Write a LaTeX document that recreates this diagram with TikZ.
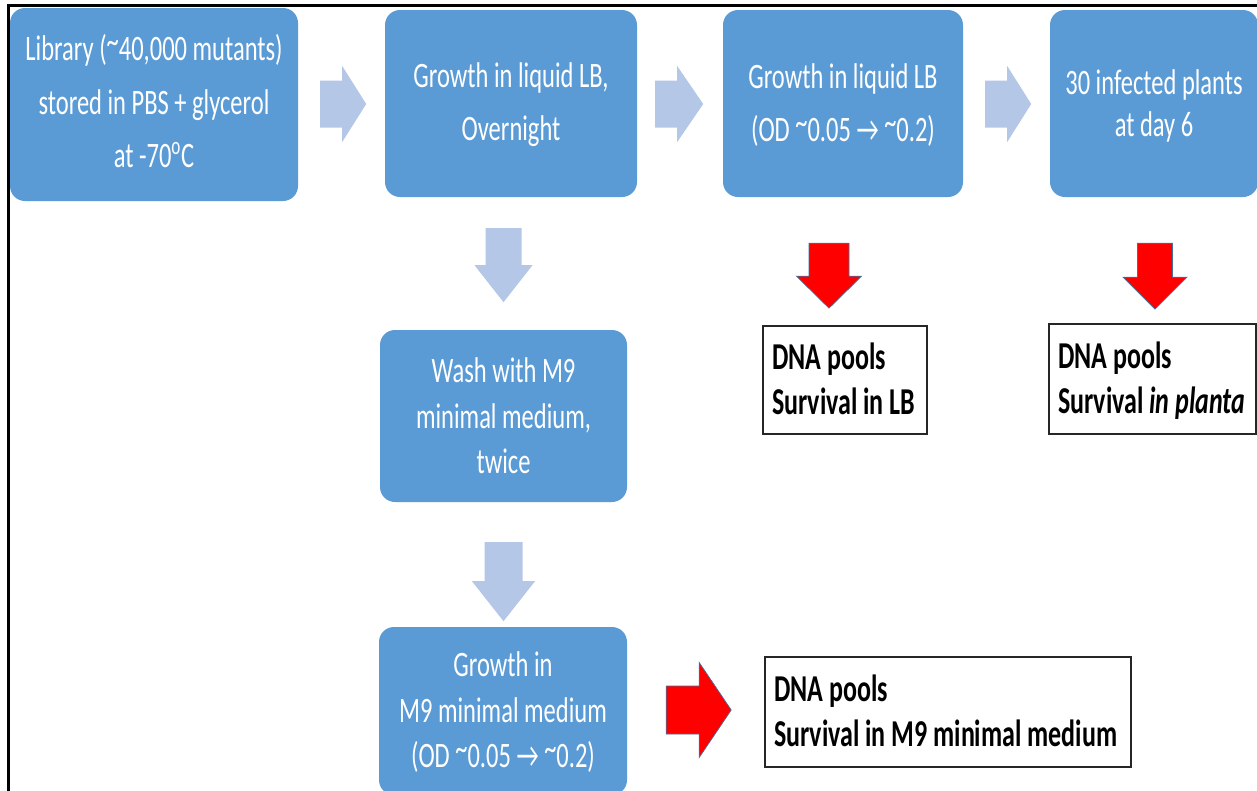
\documentclass[tikz,border=0pt]{standalone}
\usepackage{fontspec}
\setmainfont{Carlito}
\usepackage{graphicx}
\usetikzlibrary{calc}

\definecolor{boxblue}{HTML}{5B9BD5}
\definecolor{paleblue}{HTML}{B4C7E7}
\definecolor{arrowred}{HTML}{FF0000}
\definecolor{arrowedge}{HTML}{41719C}

% raised tilde, as in "~0.05"
\newcommand\tld{\raisebox{0.2em}{\textasciitilde}}
% text set tall and narrow, centred or left aligned, with an optional vertical nudge
\newcommand\tallc[2][0pt]{\raisebox{#1}[\height][\depth]{\scalebox{1}[1.46]{\begin{tabular}{@{}c@{}}#2\end{tabular}}}}
\newcommand\talll[1]{\scalebox{1}[1.46]{\begin{tabular}{@{}l@{}}#1\end{tabular}}}
\newcommand\poolt[2]{\raisebox{-3pt}[\height][\depth]{\makebox[#1][l]{\talll{#2}}}}

% block arrow: style, tail centre, direction, shaft length, head length,
% shaft half width, head half width
\newcommand\blockarrow[7]{%
  \path[#1, shift={#2}, rotate=#3]
    (0,-#6) -- (#4,-#6) -- (#4,-#7) -- ({#4+#5},0) -- (#4,#7) -- (#4,#6) -- (0,#6) -- cycle;}

\tikzset{
  stage/.style={fill=boxblue, rounded corners=15pt, text=white, inner sep=0pt,
    font=\fontsize{24.5}{36.6}\selectfont},
  pool/.style={draw=black!85, line width=1.3pt, fill=white, inner ysep=0pt, inner xsep=9pt,
    font=\fontsize{26}{30.8}\selectfont\bfseries},
  paleflow/.style={fill=paleblue},
  redflow/.style={fill=arrowred, draw=arrowedge, line width=0.7pt, line join=miter},
}

\begin{document}
\begin{tikzpicture}[x=1pt, y=-1pt]
\clip (0,0) rectangle (1257,790);
\fill[white] (0,0) rectangle (1257,790);

% outer frame (left and top edges)
\draw[line width=2.7pt, line join=miter] (8.7,795) -- (8.7,5.3) -- (1262,5.3);

% process stages
\node[stage, minimum width=288pt, minimum height=193pt] (b1) at (154,104.5)
  {\tallc[1pt]{Library (\tld40,000 mutants)\\stored in PBS + glycerol\\at -70\textsuperscript{o}C}};
\node[stage, minimum width=252pt, minimum height=187pt] (b2) at (511,103.5)
  {\tallc{Growth in liquid LB,\\Overnight}};
\node[stage, minimum width=240pt, minimum height=187pt] (b3) at (843,103.5)
  {\tallc[-1pt]{Growth in liquid LB\\(OD \tld0.05 → \tld0.2)}};
\node[stage, minimum width=208pt, minimum height=187pt, font=\fontsize{24.5}{28.8}\selectfont] (b4) at (1154,103.5)
  {\tallc[-4pt]{30 infected plants\\at day 6}};
\node[stage, minimum width=247pt, minimum height=172pt, font=\fontsize{24.5}{31.2}\selectfont] (b5) at (503.5,416)
  {\tallc[-3pt]{Wash with M9\\minimal medium,\\twice}};
\node[stage, minimum width=248pt, minimum height=168pt, font=\fontsize{24.5}{31.2}\selectfont] (b6) at (503,711)
  {\tallc[-2pt]{Growth in\\M9 minimal medium\\(OD \tld0.05 → \tld0.2)}};

% DNA pool boxes
\node[pool, minimum height=108pt] (dna1) at (845,380)
  {\poolt{146pt}{DNA pools\\Survival in LB}};
\node[pool, minimum height=110pt] (dna2) at (1152.5,379)
  {\poolt{189pt}{DNA pools\\Survival \textit{in planta}}};
\node[pool, minimum height=110pt] (dna3) at (948,712)
  {\poolt{348pt}{DNA pools\\Survival in M9 minimal medium}};

% flow between stages
\blockarrow{paleflow}{($(b1.east)+(22,-0.5)$)}{0}{22}{24}{23.5}{38}
\blockarrow{paleflow}{($(b2.east)+(18,0.5)$)}{0}{22}{26}{23.5}{38}
\blockarrow{paleflow}{($(b3.east)+(22,0.5)$)}{0}{22}{24}{23.5}{38}
\blockarrow{paleflow}{($(b2.south -| b5.north)+(0,31)$)}{-90}{37}{37}{18}{29}
\blockarrow{paleflow}{($(b5.south)+(0,40)$)}{-90}{39}{40}{19}{31.5}

% sampling into DNA pools
\blockarrow{redflow}{($(b3.south)+(-14,46)$)}{-90}{33}{32}{20}{32.5}
\blockarrow{redflow}{($(b4.south)+(1,46)$)}{-90}{34}{32}{17.5}{32}
\blockarrow{redflow}{($(b6.east)+(39,-1)$)}{0}{33}{32}{24}{47.5}
\end{tikzpicture}
\end{document}
